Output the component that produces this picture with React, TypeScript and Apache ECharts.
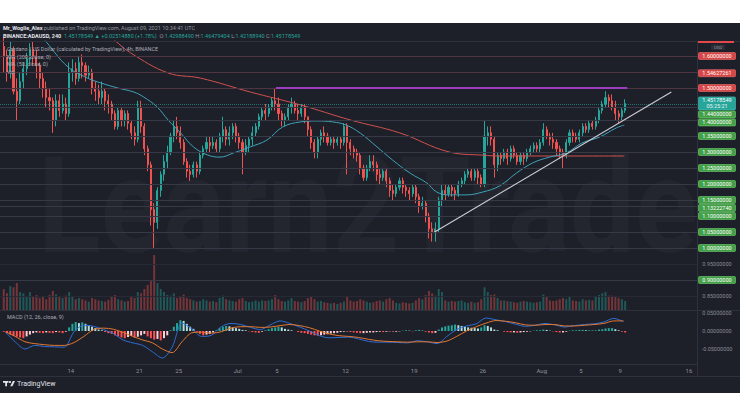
import React, { useEffect, useRef } from 'react';
import * as echarts from 'echarts';

// ---- ADA/USD 8h candles, 7 Jun 2021 00:00 UTC onward ----
const CANDLE_START = Date.UTC(2021, 5, 7);
const HOUR = 3600 * 1000;
const DAY = 24 * HOUR;
const CANDLE_HOURS = 8;

const firstOpen = 1.63;

const closes = [
  1.60, 1.55, 1.62, 1.49, 1.46, 1.52, 1.56, 1.59, 1.62, 1.60, 1.57, 1.53,
  1.50, 1.47, 1.46, 1.40, 1.46, 1.43, 1.45, 1.42, 1.55, 1.56, 1.53, 1.58,
  1.57, 1.54, 1.55, 1.50, 1.49, 1.47, 1.49, 1.46, 1.45, 1.42, 1.38, 1.43,
  1.40, 1.42, 1.39, 1.36, 1.34, 1.44, 1.38, 1.31, 1.26, 1.12, 1.08, 1.18,
  1.23, 1.27, 1.30, 1.35, 1.38, 1.36, 1.33, 1.27, 1.24, 1.23, 1.26, 1.24,
  1.29, 1.31, 1.33, 1.32, 1.33, 1.31, 1.35, 1.37, 1.34, 1.36, 1.38, 1.35,
  1.33, 1.30, 1.32, 1.34, 1.36, 1.38, 1.41, 1.43, 1.42, 1.44, 1.46, 1.45,
  1.42, 1.40, 1.41, 1.44, 1.45, 1.43, 1.42, 1.44, 1.41, 1.37, 1.33, 1.30,
  1.34, 1.36, 1.35, 1.33, 1.34, 1.33, 1.34, 1.33, 1.38, 1.33, 1.31, 1.30,
  1.29, 1.25, 1.22, 1.25, 1.27, 1.26, 1.23, 1.22, 1.24, 1.21, 1.18, 1.17,
  1.19, 1.21, 1.19, 1.18, 1.17, 1.19, 1.16, 1.13, 1.14, 1.10, 1.06, 1.05,
  1.06, 1.15, 1.18, 1.17, 1.19, 1.18, 1.17, 1.20, 1.21, 1.23, 1.24, 1.22,
  1.24, 1.22, 1.20, 1.35, 1.36, 1.34, 1.26, 1.29, 1.28, 1.30, 1.28, 1.31,
  1.29, 1.27, 1.29, 1.28, 1.30, 1.31, 1.32, 1.31, 1.33, 1.37, 1.35, 1.34,
  1.33, 1.31, 1.30, 1.29, 1.33, 1.36, 1.35, 1.34, 1.36, 1.38, 1.37, 1.39,
  1.38, 1.40, 1.43, 1.45, 1.47, 1.46, 1.44, 1.42, 1.41, 1.43, 1.45178549,
];

const highs = [
  1.66, 1.62, 1.645, 1.63, 1.53, 1.55, 1.58, 1.61, 1.64, 1.645, 1.62, 1.58,
  1.55, 1.52, 1.50, 1.47, 1.48, 1.48, 1.48, 1.47, 1.58, 1.59, 1.58, 1.60,
  1.605, 1.58, 1.57, 1.56, 1.52, 1.51, 1.52, 1.50, 1.48, 1.46, 1.43, 1.44,
  1.44, 1.43, 1.43, 1.40, 1.38, 1.46, 1.46, 1.39, 1.32, 1.27, 1.14, 1.19,
  1.24, 1.29, 1.32, 1.36, 1.40, 1.41, 1.38, 1.34, 1.28, 1.26, 1.27, 1.27,
  1.30, 1.32, 1.35, 1.35, 1.35, 1.34, 1.36, 1.41, 1.38, 1.38, 1.39, 1.39,
  1.36, 1.34, 1.34, 1.35, 1.38, 1.39, 1.42, 1.44, 1.45, 1.45, 1.47, 1.50,
  1.47, 1.43, 1.42, 1.45, 1.47, 1.46, 1.45, 1.45, 1.45, 1.41, 1.38, 1.34,
  1.35, 1.37, 1.38, 1.36, 1.35, 1.35, 1.35, 1.35, 1.39, 1.39, 1.34, 1.32,
  1.31, 1.30, 1.26, 1.26, 1.29, 1.29, 1.27, 1.25, 1.25, 1.25, 1.22, 1.20,
  1.20, 1.22, 1.22, 1.20, 1.19, 1.20, 1.20, 1.17, 1.16, 1.15, 1.11, 1.08,
  1.08, 1.16, 1.20, 1.20, 1.20, 1.20, 1.19, 1.21, 1.22, 1.24, 1.25, 1.25,
  1.25, 1.25, 1.23, 1.40, 1.38, 1.38, 1.35, 1.30, 1.30, 1.31, 1.31, 1.32,
  1.32, 1.30, 1.30, 1.30, 1.31, 1.32, 1.33, 1.33, 1.34, 1.39, 1.38, 1.36,
  1.36, 1.34, 1.32, 1.31, 1.34, 1.37, 1.37, 1.36, 1.37, 1.39, 1.39, 1.40,
  1.40, 1.41, 1.44, 1.46, 1.49, 1.48, 1.48, 1.46, 1.43, 1.44, 1.46479404,
];

const lows = [
  1.55, 1.52, 1.53, 1.48, 1.40, 1.45, 1.50, 1.54, 1.57, 1.57, 1.53, 1.50,
  1.47, 1.44, 1.43, 1.36, 1.38, 1.41, 1.42, 1.40, 1.41, 1.52, 1.51, 1.52,
  1.53, 1.52, 1.53, 1.48, 1.46, 1.45, 1.45, 1.43, 1.42, 1.40, 1.37, 1.37,
  1.38, 1.38, 1.37, 1.34, 1.32, 1.33, 1.36, 1.29, 1.24, 1.07, 1.00, 1.06,
  1.16, 1.21, 1.25, 1.29, 1.33, 1.34, 1.31, 1.26, 1.22, 1.21, 1.22, 1.22,
  1.23, 1.28, 1.30, 1.30, 1.31, 1.30, 1.30, 1.33, 1.32, 1.32, 1.34, 1.33,
  1.31, 1.23, 1.29, 1.30, 1.32, 1.35, 1.37, 1.40, 1.40, 1.41, 1.43, 1.43,
  1.40, 1.38, 1.38, 1.40, 1.42, 1.42, 1.40, 1.41, 1.39, 1.35, 1.31, 1.28,
  1.28, 1.32, 1.33, 1.32, 1.32, 1.31, 1.32, 1.31, 1.32, 1.23, 1.29, 1.28,
  1.27, 1.23, 1.21, 1.21, 1.24, 1.24, 1.21, 1.20, 1.21, 1.19, 1.16, 1.15,
  1.16, 1.18, 1.17, 1.16, 1.15, 1.16, 1.14, 1.11, 1.12, 1.08, 1.03, 1.02,
  1.02, 1.05, 1.13, 1.15, 1.16, 1.16, 1.15, 1.16, 1.19, 1.20, 1.22, 1.21,
  1.21, 1.20, 1.19, 1.19, 1.32, 1.32, 1.22, 1.24, 1.26, 1.27, 1.26, 1.27,
  1.28, 1.26, 1.26, 1.26, 1.27, 1.29, 1.30, 1.30, 1.30, 1.32, 1.34, 1.32,
  1.31, 1.29, 1.28, 1.25, 1.28, 1.32, 1.33, 1.33, 1.33, 1.35, 1.36, 1.36,
  1.37, 1.37, 1.39, 1.42, 1.44, 1.44, 1.43, 1.40, 1.39, 1.40, 1.4218894,
];

const volumes = [
  35, 28, 40, 38, 45, 30, 28, 22, 30, 22, 25, 20,
  22, 18, 25, 32, 26, 22, 20, 24, 30, 22, 18, 20,
  18, 16, 14, 20, 18, 16, 15, 14, 17, 22, 25, 18,
  16, 14, 15, 22, 20, 30, 28, 35, 42, 50, 92, 45,
  35, 30, 25, 24, 28, 20, 22, 26, 20, 18, 16, 14,
  15, 18, 16, 14, 15, 13, 20, 24, 18, 16, 15, 14,
  18, 20, 15, 13, 14, 16, 14, 16, 15, 16, 18, 25,
  18, 15, 14, 16, 20, 15, 14, 13, 15, 20, 22, 18,
  14, 15, 13, 12, 11, 12, 10, 12, 14, 22, 16, 14,
  15, 18, 16, 14, 12, 13, 15, 16, 14, 18, 20, 16,
  12, 11, 13, 12, 11, 12, 16, 20, 18, 25, 32, 28,
  24, 35, 30, 16, 14, 15, 14, 15, 16, 13, 12, 14,
  12, 13, 18, 38, 30, 25, 26, 20, 16, 16, 15, 14,
  13, 12, 14, 15, 14, 13, 12, 13, 14, 26, 22, 16,
  15, 16, 18, 20, 18, 22, 16, 15, 14, 18, 16, 17,
  16, 22, 25, 28, 30, 24, 24, 22, 20, 18, 15,
];

// ---- MACD (12, 26, close, 9), one reading per day ----
const macdValues = [
  -0.003, -0.030, -0.050, -0.040, -0.043, -0.044, -0.045, -0.002, 0.016, 0.013,
  0.004, -0.007, -0.025, -0.033, -0.040, -0.058, -0.075, -0.045, 0.022, 0.006,
  -0.015, -0.012, 0.012, 0.021, 0.018, 0.010, 0.004, 0.017, 0.028, 0.021,
  0.011, 0.000, -0.013, -0.019, -0.018, -0.017, -0.022, -0.029, -0.031, -0.031,
  -0.032, -0.033, -0.027, -0.030, -0.035, -0.015, 0.004, 0.014, 0.020, 0.036,
  0.031, 0.026, 0.019, 0.013, 0.016, 0.021, 0.017, 0.011, 0.015, 0.018,
  0.020, 0.025, 0.035, 0.026,
];

const signalValues = [
  -0.002, -0.015, -0.030, -0.035, -0.038, -0.040, -0.040, -0.032, -0.015, 0.004,
  0.008, 0.005, -0.004, -0.015, -0.025, -0.033, -0.050, -0.060, -0.030, -0.005,
  -0.003, -0.006, -0.002, 0.008, 0.012, 0.012, 0.010, 0.011, 0.015, 0.018,
  0.015, 0.009, 0.000, -0.008, -0.013, -0.015, -0.018, -0.023, -0.027, -0.029,
  -0.030, -0.031, -0.030, -0.030, -0.032, -0.028, -0.015, 0.000, 0.012, 0.022,
  0.029, 0.027, 0.023, 0.017, 0.016, 0.018, 0.018, 0.014, 0.014, 0.016,
  0.018, 0.021, 0.028, 0.028,
];

// histogram, one bar per 8h candle
const histValues = [
  -0.002, -0.006, -0.010, -0.014, -0.016, -0.018, -0.020, -0.015, -0.010,
  -0.006, -0.004, -0.005, -0.006, -0.004, -0.005, -0.006, -0.003, -0.004,
  -0.006, -0.002, 0.010, 0.020, 0.025, 0.022, 0.024, 0.020, 0.015,
  0.012, 0.008, 0.004, 0.002, -0.003, -0.006, -0.008, -0.012, -0.015,
  -0.018, -0.020, -0.017, -0.014, -0.018, -0.016, -0.012, -0.008, -0.015,
  -0.020, -0.024, -0.022, -0.026, -0.020, -0.012, 0.002, 0.012, 0.022,
  0.030, 0.028, 0.020, 0.012, 0.006, -0.002, -0.008, -0.012, -0.010,
  -0.008, -0.004, 0.002, 0.008, 0.012, 0.014, 0.013, 0.010, 0.008,
  0.006, 0.003, 0.002, -0.001, -0.003, -0.004, -0.005, -0.002, 0.002,
  0.005, 0.008, 0.010, 0.012, 0.010, 0.006, 0.004, 0.002, 0.000,
  -0.003, -0.005, -0.006, -0.008, -0.010, -0.012, -0.013, -0.012, -0.010,
  -0.009, -0.007, -0.006, -0.005, -0.003, -0.002, -0.001, -0.003, -0.004,
  -0.005, -0.006, -0.006, -0.005, -0.004, -0.004, -0.003, -0.002, -0.003,
  -0.002, -0.001, -0.002, -0.002, -0.001, 0.001, 0.002, 0.001, -0.001,
  0.002, 0.003, 0.001, -0.002, -0.004, -0.006, -0.005, 0.004, 0.010,
  0.013, 0.015, 0.016, 0.018, 0.016, 0.014, 0.012, 0.010, 0.009,
  0.008, 0.007, 0.010, 0.016, 0.014, 0.010, 0.004, 0.002, 0.000,
  -0.002, -0.003, -0.004, -0.004, -0.005, -0.004, -0.003, -0.002, -0.001,
  0.001, 0.002, 0.002, 0.004, 0.003, 0.001, -0.001, -0.003, -0.004,
  -0.004, -0.002, 0.001, 0.002, 0.002, 0.003, 0.003, 0.002, 0.002,
  0.001, 0.002, 0.004, 0.005, 0.007, 0.008, 0.008, 0.005, 0.002,
  -0.002, -0.004,
];

// ---- moving averages ----
const ma50Times = [
  '2021-06-10 12:00', '2021-06-11 12:00', '2021-06-13 17:00', '2021-06-15 17:00',
  '2021-06-17 01:00', '2021-06-18 19:00', '2021-06-20 10:00', '2021-06-21 10:00',
  '2021-06-22 19:00', '2021-06-23 22:00', '2021-06-25 05:00', '2021-06-26 12:00',
  '2021-06-27 22:00', '2021-06-29 05:00', '2021-06-30 14:00', '2021-07-02 07:00',
  '2021-07-04 00:00', '2021-07-05 14:00', '2021-07-07 10:00', '2021-07-09 02:00',
  '2021-07-10 17:00', '2021-07-12 02:00', '2021-07-13 12:00', '2021-07-15 05:00',
  '2021-07-16 19:00', '2021-07-18 14:00', '2021-07-20 07:00', '2021-07-21 07:00',
  '2021-07-22 14:00', '2021-07-24 07:00', '2021-07-26 00:00', '2021-07-27 17:00',
  '2021-07-29 10:00', '2021-07-31 02:00', '2021-08-01 19:00', '2021-08-03 12:00',
  '2021-08-05 02:00', '2021-08-06 22:00', '2021-08-08 14:00', '2021-08-09 10:00',
];
const ma50Values = [
  1.68, 1.644, 1.566, 1.531, 1.516, 1.50, 1.4875, 1.472,
  1.441, 1.40, 1.359, 1.316, 1.291, 1.284, 1.297, 1.316,
  1.3375, 1.378, 1.394, 1.397, 1.394, 1.384, 1.359, 1.316,
  1.275, 1.234, 1.203, 1.175, 1.166, 1.166, 1.175, 1.194,
  1.234, 1.266, 1.284, 1.297, 1.328, 1.347, 1.375, 1.384,
];

const ma200Times = [
  '2021-06-15 00:00', '2021-06-18 10:00', '2021-06-20 02:00', '2021-06-23 22:00',
  '2021-06-27 05:00', '2021-07-02 07:00', '2021-07-07 10:00', '2021-07-12 12:00',
  '2021-07-17 12:00', '2021-07-22 14:00', '2021-07-26 00:00', '2021-07-27 17:00',
  '2021-08-01 19:00', '2021-08-09 10:00',
];
const ma200Values = [
  1.73, 1.65, 1.61, 1.547, 1.531, 1.4875, 1.447, 1.40,
  1.36, 1.30, 1.29, 1.2875, 1.2875, 1.2875,
];

// ---- horizontal levels and their scale tags ----
const levelValues = [1.60, 1.54627261, 1.50, 1.44, 1.40, 1.35, 1.30, 1.25, 1.20, 1.15, 1.1322274, 1.10, 1.05, 1.00, 0.95, 0.90, 0.85];
const levelTexts = [
  '1.60000000', '1.54627261', '1.50000000', '1.44000000', '1.40000000', '1.35000000',
  '1.30000000', '1.25000000', '1.20000000', '1.15000000', '1.13222740', '1.10000000',
  '1.05000000', '1.00000000', '0.95000000', '0.90000000', '0.85000000',
];
const levelKinds = [
  'resistance', 'resistance', 'resistance', 'support', 'support', 'support',
  'support', 'support', 'support', 'support', 'support', 'support',
  'support', 'support', 'scale', 'support', 'scale',
];

const lastPrice = 1.45178549;
const lastPriceText = '1.45178549';
const countdownText = '05:25:21';

const resistanceFrom = '2021-07-04 22:00';
const resistanceTo = '2021-08-09 17:00';
const resistancePrice = 1.5;

const trendFrom = '2021-07-21 02:00';
const trendFromPrice = 1.05;
const trendTo = '2021-08-14 05:00';
const trendToPrice = 1.4875;

const timeTickDates = ['2021-06-14', '2021-06-21', '2021-06-25', '2021-07-01', '2021-07-05', '2021-07-12', '2021-07-19', '2021-07-26', '2021-08-01', '2021-08-05', '2021-08-09', '2021-08-16'];
const timeTickLabels = ['14', '21', '25', 'Jul', '5', '12', '19', '26', 'Aug', '5', '9', '16'];

const macdTickValues = [0.05, 0, -0.05];
const macdTickTexts = ['0.05000000', '0.00000000', '-0.05000000'];

// ---- layout ----
const W = 740;
const FRAME_TOP = 23;
const FRAME_BOTTOM = 393;
const PLOT_RIGHT = 697;
const MAIN_TOP = 41;
const MAIN_BOTTOM = 310;
const MACD_BOTTOM = 364;
const TIME_BOTTOM = 376;
const PX_PER_DAY = 9.84;
const X_MIN = CANDLE_START - (1.1 / PX_PER_DAY) * DAY;
const X_MAX = X_MIN + (PLOT_RIGHT / PX_PER_DAY) * DAY;
const PRICE_MAX = 1.35 + (136 - MAIN_TOP) / 320;
const PRICE_MIN = 1.35 - (MAIN_BOTTOM - 136) / 320;
const MACD_MAX = (331 - MAIN_BOTTOM) * (0.05 / 18);
const MACD_MIN = -(MACD_BOTTOM - 331) * (0.05 / 18);

const BG = '#1d1f29';
const FONT = 'Roboto, "Noto Sans", sans-serif';
const UP = '#26a69a';
const DOWN = '#ef5350';

const toTime = (s: string) => Date.parse(s.replace(' ', 'T') + ':00Z');
const candleTime = (k: number) => CANDLE_START + k * CANDLE_HOURS * HOUR + (CANDLE_HOURS * HOUR) / 2;

function lineColor(kind: string) {
  if (kind === 'resistance') return '#4f3441';
  if (kind === 'support') return '#373a46';
  return '#272a35';
}

function buildOption(): echarts.EChartsOption {
  const opens = closes.map((_, k) => (k === 0 ? firstOpen : closes[k - 1]));
  const candleData = closes.map((c, k) => [candleTime(k), opens[k], c, lows[k], highs[k]]);
  const volumeData = volumes.map((v, k) => ({
    value: [candleTime(k), v],
    itemStyle: { color: closes[k] >= opens[k] ? 'rgba(38,166,154,0.42)' : 'rgba(239,83,80,0.42)' },
  }));
  const histData = histValues.map((h, k) => {
    const prev = k === 0 ? 0 : histValues[k - 1];
    let color;
    if (h >= 0) color = h >= prev ? '#26a69a' : '#b2dfdb';
    else color = h < prev ? '#ff5252' : '#ffcdd2';
    return { value: [candleTime(k), h], itemStyle: { color } };
  });
  const dailyTime = (i: number) => CANDLE_START + i * DAY + 8 * HOUR;

  const levelLines: any[] = levelValues.map((v, i) => ({
    yAxis: v,
    lineStyle: { color: lineColor(levelKinds[i]), width: 1, type: 'solid' },
  }));
  levelLines.push({ yAxis: lastPrice, lineStyle: { color: '#26a69a', width: 1, type: 'dotted', opacity: 0.6 } });
  levelLines.push([
    { coord: [toTime(resistanceFrom), resistancePrice], lineStyle: { color: '#9b3fc0', width: 2, type: 'solid' } },
    { coord: [toTime(resistanceTo), resistancePrice], lineStyle: { color: '#9b3fc0', width: 2, type: 'solid' } },
  ]);
  levelLines.push([
    { coord: [toTime(trendFrom), trendFromPrice], lineStyle: { color: '#c9ccd3', width: 1.2, type: 'solid' } },
    { coord: [toTime(trendTo), trendToPrice], lineStyle: { color: '#c9ccd3', width: 1.2, type: 'solid' } },
  ]);

  return {
    animation: false,
    backgroundColor: BG,
    grid: [
      { left: 0, top: MAIN_TOP, width: PLOT_RIGHT, height: MAIN_BOTTOM - MAIN_TOP },
      { left: 0, top: MAIN_BOTTOM, width: PLOT_RIGHT, height: MACD_BOTTOM - MAIN_BOTTOM },
    ],
    xAxis: [
      { type: 'time', gridIndex: 0, min: X_MIN, max: X_MAX, show: false, splitLine: { show: false } },
      { type: 'time', gridIndex: 1, min: X_MIN, max: X_MAX, show: false, splitLine: { show: false } },
    ],
    yAxis: [
      { type: 'value', gridIndex: 0, min: PRICE_MIN, max: PRICE_MAX, show: false, splitLine: { show: false } },
      { type: 'value', gridIndex: 0, min: 0, max: 450, show: false, splitLine: { show: false } },
      { type: 'value', gridIndex: 1, min: MACD_MIN, max: MACD_MAX, show: false, splitLine: { show: false } },
    ],
    series: [
      {
        name: 'Vol', type: 'bar', xAxisIndex: 0, yAxisIndex: 1, barWidth: 2,
        data: volumeData, z: 1, silent: true,
      },
      {
        name: 'ADAUSD', type: 'candlestick', xAxisIndex: 0, yAxisIndex: 0, barWidth: 1.6,
        data: candleData, z: 3, silent: true,
        itemStyle: { color: UP, color0: DOWN, borderColor: UP, borderColor0: DOWN, borderWidth: 1 },
        markLine: {
          silent: true, animation: false, symbol: ['none', 'none'],
          label: { show: false }, emphasis: { disabled: true },
          data: levelLines,
        },
      },
      {
        name: 'MA 200', type: 'line', xAxisIndex: 0, yAxisIndex: 0, smooth: 0.4, showSymbol: false, z: 4,
        data: ma200Times.map((t, i) => [toTime(t), ma200Values[i]]),
        lineStyle: { color: '#d0524f', width: 1 }, silent: true,
      },
      {
        name: 'MA 50', type: 'line', xAxisIndex: 0, yAxisIndex: 0, smooth: 0.4, showSymbol: false, z: 4,
        data: ma50Times.map((t, i) => [toTime(t), ma50Values[i]]),
        lineStyle: { color: '#3fa3b8', width: 1 }, silent: true,
      },
      {
        name: 'Histogram', type: 'bar', xAxisIndex: 1, yAxisIndex: 2, barWidth: 2,
        data: histData, silent: true,
      },
      {
        name: 'MACD', type: 'line', xAxisIndex: 1, yAxisIndex: 2, smooth: 0.3, showSymbol: false,
        data: macdValues.map((v, i) => [dailyTime(i), v]),
        lineStyle: { color: '#2f6fd6', width: 1 }, silent: true,
      },
      {
        name: 'Signal', type: 'line', xAxisIndex: 1, yAxisIndex: 2, smooth: 0.3, showSymbol: false,
        data: signalValues.map((v, i) => [dailyTime(i), v]),
        lineStyle: { color: '#e5782f', width: 1 }, silent: true,
      },
    ],
  };
}

function text(x: number, y: number, str: string, extra: any = {}, z = 20): any {
  const align = extra.align || 'left';
  const verticalAlign = extra.verticalAlign || 'middle';
  return {
    type: 'text', x, y, z, silent: true,
    style: {
      text: str, fill: extra.fill || '#b2b5be', fontSize: extra.fontSize || 5.5,
      fontFamily: FONT, fontWeight: extra.fontWeight || 'normal',
      align, textAlign: align, verticalAlign, textVerticalAlign: verticalAlign,
      rich: extra.rich,
    },
  };
}

function hLine(y: number, x1: number, x2: number, color = '#2f323d'): any {
  return { type: 'line', z: 15, silent: true, shape: { x1, y1: y + 0.5, x2, y2: y + 0.5 }, style: { stroke: color, lineWidth: 1 } };
}

function buildGraphics(chart: echarts.ECharts): any[] {
  const yMain = (v: number) => chart.convertToPixel({ yAxisIndex: 0 } as any, v) as unknown as number;
  const yMacd = (v: number) => chart.convertToPixel({ yAxisIndex: 2 } as any, v) as unknown as number;
  const xTime = (t: number) => chart.convertToPixel({ xAxisIndex: 1 } as any, t) as unknown as number;

  const g: any[] = [];

  // page bands outside the snapshot frame
  g.push({ type: 'rect', z: 100, silent: true, shape: { x: 0, y: 0, width: W, height: FRAME_TOP }, style: { fill: '#ffffff' } });
  g.push({ type: 'rect', z: 100, silent: true, shape: { x: 0, y: FRAME_BOTTOM, width: W, height: 416 - FRAME_BOTTOM }, style: { fill: '#ffffff' } });

  // watermark
  const wmFont = `bold 140px ${FONT}`;
  let wmWidth = 900;
  const ctx = document.createElement('canvas').getContext('2d');
  if (ctx) {
    ctx.font = wmFont;
    wmWidth = ctx.measureText('Learn2Trade').width || 900;
  }
  g.push({
    type: 'text', x: 38, y: 206, z: 0, silent: true, scaleX: 660 / wmWidth, scaleY: 0.95,
    style: {
      text: 'Learn2Trade', fill: 'rgba(70,72,80,0.16)', font: wmFont,
      align: 'left', textAlign: 'left', verticalAlign: 'middle', textVerticalAlign: 'middle',
    },
  });

  // pane borders
  g.push(hLine(MAIN_TOP, 0, W));
  g.push(hLine(MAIN_BOTTOM, 0, W));
  g.push(hLine(MACD_BOTTOM, 0, PLOT_RIGHT));
  g.push(hLine(TIME_BOTTOM, 0, W));
  g.push({ type: 'line', z: 15, silent: true, shape: { x1: PLOT_RIGHT + 0.5, y1: MAIN_TOP, x2: PLOT_RIGHT + 0.5, y2: TIME_BOTTOM }, style: { stroke: '#2f323d', lineWidth: 1 } });

  // header
  const rich = {
    w: { fill: '#e1e3ea', fontSize: 5.5, fontFamily: FONT, fontWeight: 'bold' },
    g: { fill: '#9598a1', fontSize: 5.5, fontFamily: FONT },
    t: { fill: '#26a69a', fontSize: 5.5, fontFamily: FONT },
  };
  g.push(text(3, 28, '{w|Mr_Woglie_Alex} {g|published on TradingView.com, August 09, 2021 10:34:41 UTC}', { rich }));
  g.push(text(3, 36,
    '{w|BINANCE:ADAUSD, 240}  {t|1.45178549 ▲ +0.02514880 (+1.78%)}  {g|O:}{t|1.42988490} {g|H:}{t|1.46479404} {g|L:}{t|1.42188940} {g|C:}{t|1.45178549}',
    { rich }));

  // legend
  g.push(text(7, 49, 'Cardano / US Dollar (calculated by TradingView), 4h, BINANCE', { fill: '#a9acb5' }));
  g.push(text(7, 57, 'MA (200, close, 0)', { fill: '#a9acb5' }));
  g.push(text(7, 64, 'MA (50, close, 0)', { fill: '#a9acb5' }));
  g.push(text(7, 72, 'Vol', { fill: '#a9acb5' }));
  g.push(text(7, 317, 'MACD (12, 26, close, 9)', { fill: '#a9acb5' }));

  // price scale extras
  g.push({ type: 'rect', z: 30, silent: true, shape: { x: 698, y: MAIN_TOP, width: 36, height: 2 }, style: { fill: '#e0484a' } });
  g.push({ type: 'rect', z: 30, silent: true, shape: { x: 711, y: 44.5, width: 14, height: 5.5, r: 1 }, style: { fill: '#2c2f3a' } });
  g.push(text(718, 47.3, 'USD', { fill: '#9598a1', fontSize: 4.2, align: 'center' }, 31));

  // price tags, stacked downward when they collide
  type Tag = { y: number; h: number; lines: string[]; kind: string };
  const tags: Tag[] = levelValues
    .map((v, i) => ({ y: yMain(v), h: 8, lines: [levelTexts[i]], kind: levelKinds[i] }))
    .filter((t) => t.kind !== 'scale');
  tags.push({ y: yMain(lastPrice), h: 14, lines: [lastPriceText, countdownText], kind: 'last' });
  tags.sort((a, b) => a.y - b.y);
  let prevBottom = -Infinity;
  const fills: Record<string, [string, string]> = {
    resistance: ['#d84545', '#f07272'],
    support: ['#43a047', '#73d275'],
    last: ['#26a69a', '#4cc3b6'],
  };
  tags.forEach((t) => {
    const top = Math.max(t.y - t.h / 2, prevBottom);
    prevBottom = top + t.h;
    const [fill, stroke] = fills[t.kind];
    g.push({ type: 'rect', z: 30, silent: true, shape: { x: 698.5, y: top + 0.5, width: 37, height: t.h - 1, r: 1 }, style: { fill, stroke, lineWidth: 0.6 } });
    if (t.lines.length === 1) {
      g.push(text(717, top + t.h / 2, t.lines[0], { fill: '#ffffff', align: 'center' }, 31));
    } else {
      g.push(text(717, top + 4, t.lines[0], { fill: '#ffffff', align: 'center' }, 31));
      g.push(text(717, top + 10, t.lines[1], { fill: '#e6f5f3', align: 'center' }, 31));
    }
  });
  levelValues.forEach((v, i) => {
    if (levelKinds[i] === 'scale') g.push(text(717, yMain(v), levelTexts[i], { fill: '#8a8d96', align: 'center' }, 31));
  });
  macdTickValues.forEach((v, i) => {
    g.push(text(717, yMacd(v), macdTickTexts[i], { fill: '#8a8d96', align: 'center' }, 31));
  });

  // time scale
  timeTickDates.forEach((d, i) => {
    g.push(text(xTime(Date.parse(d + 'T00:00:00Z')), 370, timeTickLabels[i], { fill: '#8f929b', fontSize: 6, align: 'center' }, 31));
  });

  // footer logo
  g.push({ type: 'rect', z: 31, silent: true, shape: { x: 3, y: 381, width: 5.5, height: 1.8 }, style: { fill: '#e1e3ea' } });
  g.push({ type: 'rect', z: 31, silent: true, shape: { x: 5.2, y: 381, width: 1.8, height: 5.2 }, style: { fill: '#e1e3ea' } });
  g.push({ type: 'circle', z: 31, silent: true, shape: { cx: 10, cy: 382, r: 1.1 }, style: { fill: '#e1e3ea' } });
  g.push({ type: 'polygon', z: 31, silent: true, shape: { points: [[10.2, 386.2], [12.8, 381], [15, 381], [12.4, 386.2]] }, style: { fill: '#e1e3ea' } });
  g.push(text(17, 383.8, 'TradingView', { fill: '#e1e3ea', fontSize: 7 }, 31));

  return g;
}

export default function App() {
  const ref = useRef<HTMLDivElement>(null);
  useEffect(() => {
    if (!ref.current) return;
    const chart = echarts.init(ref.current, undefined, { renderer: 'svg' });
    chart.setOption(buildOption());
    chart.setOption({ graphic: buildGraphics(chart) });
    return () => chart.dispose();
  }, []);
  return <div ref={ref} style={{ position: 'fixed', left: 0, top: 0, width: W, height: 416 }} />;
}
